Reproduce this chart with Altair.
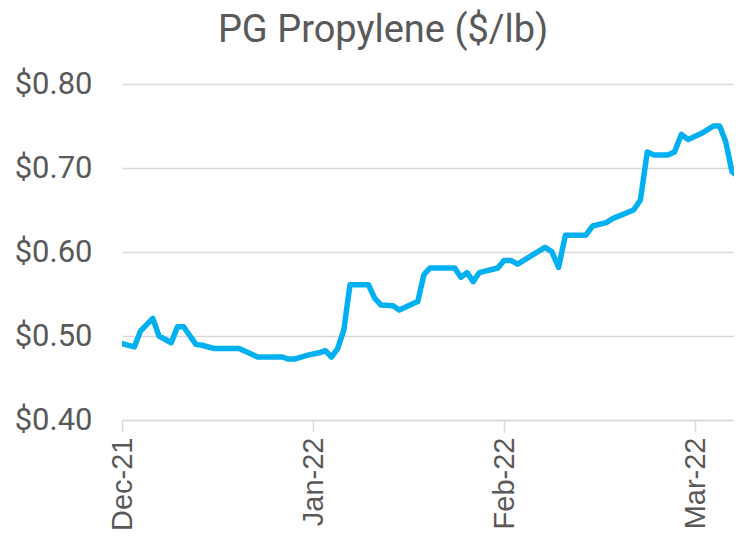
import altair as alt
import pandas as pd
import calendar

# Observation dates and prices ($/lb)
dates = [
    "2021-12-01", "2021-12-03", "2021-12-04", "2021-12-06", "2021-12-07", "2021-12-09",
    "2021-12-10", "2021-12-11", "2021-12-13", "2021-12-14", "2021-12-16", "2021-12-20",
    "2021-12-23", "2021-12-27", "2021-12-28", "2021-12-29", "2021-12-31",
    "2022-01-02", "2022-01-03", "2022-01-04", "2022-01-05", "2022-01-06", "2022-01-07",
    "2022-01-10", "2022-01-11", "2022-01-12", "2022-01-14", "2022-01-15", "2022-01-18",
    "2022-01-19", "2022-01-20", "2022-01-24", "2022-01-25", "2022-01-26", "2022-01-27",
    "2022-01-28", "2022-01-31",
    "2022-02-01", "2022-02-02", "2022-02-03", "2022-02-07", "2022-02-08", "2022-02-09",
    "2022-02-10", "2022-02-13", "2022-02-14", "2022-02-16", "2022-02-17", "2022-02-20",
    "2022-02-21", "2022-02-22", "2022-02-23", "2022-02-25", "2022-02-26", "2022-02-27",
    "2022-02-28",
    "2022-03-02", "2022-03-04", "2022-03-05", "2022-03-06", "2022-03-07", "2022-03-08",
]
prices = [
    0.491, 0.487, 0.506, 0.521, 0.500, 0.492,
    0.511, 0.511, 0.490, 0.489, 0.485, 0.485,
    0.475, 0.475, 0.4726, 0.4726, 0.477,
    0.480, 0.4825, 0.475, 0.485, 0.507, 0.561,
    0.561, 0.545, 0.537, 0.536, 0.531, 0.541,
    0.573, 0.581, 0.581, 0.570, 0.5755, 0.5647,
    0.5755, 0.581,
    0.590, 0.590, 0.5855, 0.6056, 0.6004, 0.5817,
    0.620, 0.620, 0.631, 0.635, 0.640, 0.650,
    0.662, 0.719, 0.7155, 0.7155, 0.719, 0.740,
    0.734,
    0.741, 0.750, 0.750, 0.731, 0.6956, 0.6897,
]
month_labels = ["Dec-21", "Jan-22", "Feb-22", "Mar-22"]
y_ticks = [0.40, 0.50, 0.60, 0.70, 0.80]

# Category-style month axis: every month gets equal width
start_year, start_month = 2021, 12
pos = []
for d in dates:
    y, m, dd = (int(p) for p in d.split("-"))
    idx = (y - start_year) * 12 + (m - start_month)
    ndays = calendar.monthrange(y, m)[1]
    pos.append(idx + (dd - 1) / ndays)

df = pd.DataFrame({"pos": pos, "price": prices, "date": dates})

label_expr = "[" + ",".join(f"'{s}'" for s in month_labels) + "][round(datum.value)]"

GRAY = "#595959"
GRID = "#d9d9d9"

PLOT_W = 612
MONTH_PX = 191
x_max = PLOT_W / MONTH_PX  # visible window ends a little before the last point

chart = (
    alt.Chart(df)
    .mark_line(color="#00B0F0", strokeWidth=5.5, strokeJoin="round", strokeCap="round", clip=True)
    .encode(
        x=alt.X(
            "pos:Q",
            scale=alt.Scale(domain=[0, x_max], nice=False, zero=False),
            axis=alt.Axis(
                values=list(range(len(month_labels))),
                labelExpr=label_expr,
                title=None,
                grid=False,
                domainColor=GRID,
                domainWidth=1.5,
                tickColor=GRID,
                tickWidth=1.5,
                tickSize=12,
                labelAngle=270,
                labelAlign="right",
                labelBaseline="middle",
                labelPadding=5,
                labelFont="Liberation Sans",
                labelFontSize=29,
                labelColor=GRAY,
                labelOverlap=False,
            ),
        ),
        y=alt.Y(
            "price:Q",
            scale=alt.Scale(domain=[0.4, 0.8], nice=False, zero=False),
            axis=alt.Axis(
                values=y_ticks,
                format="$.2f",
                title=None,
                domain=False,
                ticks=False,
                grid=True,
                gridColor=GRID,
                gridWidth=1.5,
                labelFont="Roboto",
                labelFontSize=31,
                labelColor=GRAY,
                labelPadding=30,
            ),
        ),
    )
    .properties(
        width=PLOT_W,
        height=336,
        background="white",
        title=alt.TitleParams(
            "PG Propylene ($/lb)",
            font="Roboto",
            fontSize=38,
            fontWeight="normal",
            color=GRAY,
            anchor="middle",
            frame="bounds",
            offset=18,
            dx=9,
        ),
        autosize=alt.AutoSizeParams(type="none"),
        padding={"left": 114, "top": 76, "right": 0, "bottom": 113},
    )
    .configure_view(strokeWidth=0, stroke="transparent")
)

chart.save("out.html", embed_options={"renderer": "svg", "actions": False})
